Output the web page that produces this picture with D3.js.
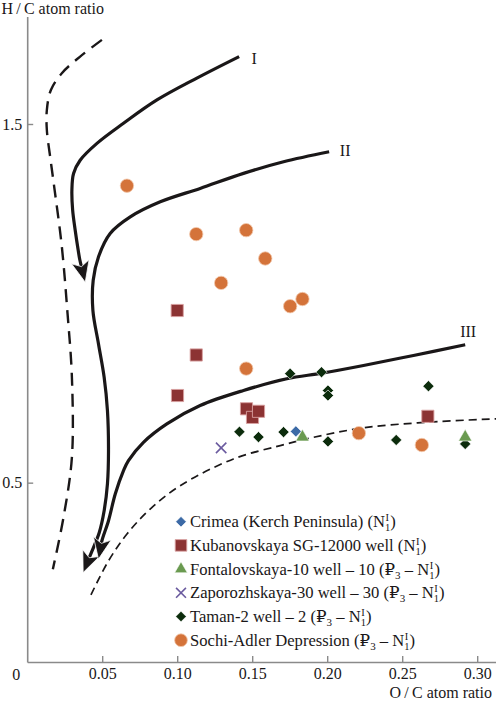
<!DOCTYPE html>
<html>
<head>
<meta charset="utf-8">
<script src="https://cdn.jsdelivr.net/npm/d3@7"></script>
<style>
  html, body { margin: 0; padding: 0; background: #fff; }
  svg { display: block; }
</style>
</head>
<body>
<svg id="chart" width="496" height="703"></svg>
<script>
// ---------------- data ----------------
const xTicks = [0.05, 0.10, 0.15, 0.20, 0.25, 0.30];
const xTickLabels = ["0.05", "0.10", "0.15", "0.20", "0.25", "0.30"];
const yTicks = [0.5, 1.5];
const yTickLabels = ["0.5", "1.5"];

// O/C , H/C
const crimea = [[0.1791, 0.643]];
const kubanovskaya = [
  [0.1000, 0.980], [0.1127, 0.856], [0.1002, 0.743], [0.1462, 0.706],
  [0.1502, 0.682], [0.1542, 0.699], [0.2671, 0.685]
];
const fontalovskaya = [[0.1835, 0.627], [0.2920, 0.627]];
const zaporozhskaya = [[0.1293, 0.597]];
const taman = [
  [0.1753, 0.804], [0.1962, 0.808], [0.2005, 0.757], [0.2005, 0.743],
  [0.2675, 0.769], [0.1415, 0.642], [0.1542, 0.627], [0.1709, 0.641],
  [0.2005, 0.615], [0.2460, 0.619], [0.2920, 0.608]
];
const sochiAdler = [
  [0.0665, 1.328], [0.1127, 1.193], [0.1460, 1.204], [0.1587, 1.125],
  [0.1293, 1.057], [0.1753, 0.992], [0.1835, 1.012], [0.1460, 0.818],
  [0.2211, 0.638], [0.2631, 0.605]
];

// evolution paths (solid, with arrow at end)
const curveI = [
  [0.1413, 1.688], [0.1131, 1.628], [0.0865, 1.567], [0.0642, 1.502],
  [0.0465, 1.446], [0.0353, 1.399], [0.0309, 1.362], [0.0298, 1.316],
  [0.0303, 1.260], [0.0320, 1.204], [0.0340, 1.148], [0.0350, 1.123],
  [0.0387, 1.059]
];
const curveII = [
  [0.2013, 1.4226], [0.1709, 1.3947], [0.1442, 1.3623], [0.1153, 1.3204],
  [0.0887, 1.2830], [0.0687, 1.2410], [0.0553, 1.1947], [0.0475, 1.1293],
  [0.0440, 1.0642], [0.0438, 0.9804], [0.0475, 0.8874], [0.0513, 0.7941],
  [0.0535, 0.7011], [0.0542, 0.5894], [0.0535, 0.4964], [0.0513, 0.4218],
  [0.0480, 0.3603], [0.0427, 0.3045], [0.0373, 0.2494]
];
const curveIII = [
  [0.2920, 0.8846], [0.2575, 0.8547], [0.2242, 0.8268], [0.1965, 0.8053],
  [0.1731, 0.7897], [0.1442, 0.7570], [0.1153, 0.7151], [0.0931, 0.6640],
  [0.0775, 0.6126], [0.0675, 0.5615], [0.0642, 0.5335], [0.0587, 0.4684],
  [0.0542, 0.3939], [0.0498, 0.3380], [0.0475, 0.2869]
];
const curveLabels = ["I", "II", "III"];

// boundary lines (dashed)
const boundLeft = [
  [0.0498, 1.7346], [0.0353, 1.688], [0.0231, 1.6416], [0.0158, 1.595],
  [0.0131, 1.539], [0.0131, 1.4832], [0.0153, 1.4087], [0.0180, 1.3249],
  [0.0231, 1.1573], [0.0269, 0.9712], [0.0298, 0.7941], [0.0298, 0.5707],
  [0.0242, 0.4031], [0.0171, 0.2589]
];
const boundLower = [
  [0.0425, 0.1872], [0.0542, 0.2821], [0.0665, 0.3567], [0.0820, 0.4265],
  [0.1020, 0.4916], [0.1375, 0.5662], [0.1687, 0.6034], [0.1909, 0.6265],
  [0.2242, 0.6528], [0.2665, 0.6684], [0.3127, 0.6780]
];

// legend (segments: [text, kind]) kind: "" normal, "sub", "NI1" stacked sup I / sub 1
const legendNames = [
  [["Crimea (Kerch Peninsula) (N", ""], ["I", "NI1"], [")", ""]],
  [["Kubanovskaya SG-12000 well (N", ""], ["I", "NI1"], [")", ""]],
  [["Fontalovskaya-10 well \u2013 10 (\u20BD", ""], ["3", "sub"], [" \u2013 N", ""], ["I", "NI1"], [")", ""]],
  [["Zaporozhskaya-30 well \u2013 30 (\u20BD", ""], ["3", "sub"], [" \u2013 N", ""], ["I", "NI1"], [")", ""]],
  [["Taman-2 well \u2013 2 (\u20BD", ""], ["3", "sub"], [" \u2013 N", ""], ["I", "NI1"], [")", ""]],
  [["Sochi-Adler Depression (\u20BD", ""], ["3", "sub"], [" \u2013 N", ""], ["I", "NI1"], [")", ""]]
];

// ---------------- drawing ----------------
const FONT = "'Liberation Serif', 'Times New Roman', Times, 'DejaVu Serif', serif";
const svg = d3.select("#chart").attr("font-family", FONT).style("font-family", FONT);
const x = d3.scaleLinear().domain([0, (496 - 27.2) / 1500]).range([27.2, 496]);
const y = d3.scaleLinear().domain([0, 1.8]).range([662, 662 - 1.8 * 358.67]);

const INK = "#1a1718";
const AXIS = "#8a8a8a";

function txt(sel, size) {
  const fs = size || 16;
  return sel.attr("font-family", FONT).style("font-family", FONT).attr("fill", INK)
    .attr("font-size", fs).style("font-size", fs + "px");
}

// axes
const gx = svg.append("g").attr("transform", `translate(0,${y(0)})`)
  .call(d3.axisBottom(x).tickValues(xTicks).tickFormat((d, i) => xTickLabels[i])
    .tickSize(-6).tickSizeOuter(0).tickPadding(6));
const gy = svg.append("g").attr("transform", `translate(${x(0)},0)`)
  .call(d3.axisLeft(y).tickValues(yTicks).tickFormat((d, i) => yTickLabels[i])
    .tickSize(-6).tickSizeOuter(0).tickPadding(5));
[gx, gy].forEach(g => {
  g.attr("font-family", FONT).attr("font-size", 16);
  g.select(".domain").attr("stroke", AXIS).attr("stroke-width", 1.6);
  g.selectAll(".tick line").attr("stroke", AXIS).attr("stroke-width", 1.4);
  txt(g.selectAll(".tick text"));
});

txt(svg.append("text")).attr("x", x(0) - 11).attr("y", y(0) + 17.5)
  .attr("text-anchor", "middle").text("0");

txt(svg.append("text")).attr("x", 1.5).attr("y", 13.5)
  .text("H\u2009/\u2009C atom ratio");
txt(svg.append("text")).attr("x", 492).attr("y", 698).attr("text-anchor", "end")
  .text("O\u2009/\u2009C atom ratio");

// curves
const line = d3.line().x(d => x(d[0])).y(d => y(d[1])).curve(d3.curveCatmullRom.alpha(0.5));

svg.append("path").datum(boundLeft).attr("d", line).attr("fill", "none")
  .attr("stroke", INK).attr("stroke-width", 2.4).attr("stroke-dasharray", "13,8");
svg.append("path").datum(boundLower).attr("d", line).attr("fill", "none")
  .attr("stroke", INK).attr("stroke-width", 1.7).attr("stroke-dasharray", "8,5");

function arrowHead(pts) {
  const n = pts.length;
  const tx = x(pts[n - 1][0]), ty = y(pts[n - 1][1]);
  const px = x(pts[n - 2][0]), py = y(pts[n - 2][1]);
  let dx = tx - px, dy = ty - py;
  const L = Math.hypot(dx, dy); dx /= L; dy /= L;
  const len = 21, hw = 9, notch = 5;
  const bx = tx - dx * len, by = ty - dy * len;
  const nx = -dy, ny = dx;
  const p = [
    [tx, ty],
    [bx + nx * hw, by + ny * hw],
    [tx - dx * (len - notch), ty - dy * (len - notch)],
    [bx - nx * hw, by - ny * hw]
  ];
  return "M" + p.map(q => q.join(",")).join("L") + "Z";
}

[curveI, curveII, curveIII].forEach((c) => {
  const n = c.length;
  const trimmed = c.slice(0, -1).concat([[
    c[n - 1][0] + (c[n - 2][0] - c[n - 1][0]) * 0.5,
    c[n - 1][1] + (c[n - 2][1] - c[n - 1][1]) * 0.5]]);
  svg.append("path").datum(trimmed)
    .attr("d", line).attr("fill", "none").attr("stroke", INK).attr("stroke-width", 3.2);
  svg.append("path").attr("d", arrowHead(c)).attr("fill", INK)
    .attr("stroke", "#fff").attr("stroke-width", 0.8);
});
const labelOffsets = [[15, 2], [16, -1], [3, -13]];
[curveI, curveII, curveIII].forEach((c, i) => {
  txt(svg.append("text")).attr("x", x(c[0][0]) + labelOffsets[i][0])
    .attr("y", y(c[0][1]) + labelOffsets[i][1] + 5)
    .attr("text-anchor", "middle").text(curveLabels[i]);
});

// markers
const COL = {
  crimea: "#3c6aa6", kuban: "#8c3333", font: "#6a9a50", zap: "#6b5b9f",
  taman: "#0c2c0c", sochi: "#d4733a"
};
function drawMarker(g, kind, cx, cy, scale) {
  const s = scale || 1;
  if (kind === "diamond" || kind === "diamondB") {
    const col = kind === "diamond" ? COL.taman : COL.crimea;
    g.append("path").attr("d", d3.symbol().type(d3.symbolSquare).size(62 * s * s)())
      .attr("transform", `translate(${cx},${cy}) rotate(45)`)
      .attr("fill", col).attr("stroke", "#fff").attr("stroke-width", 0.6);
  } else if (kind === "square") {
    g.append("path").attr("d", d3.symbol().type(d3.symbolSquare).size(148 * s * s)())
      .attr("transform", `translate(${cx},${cy})`)
      .attr("fill", COL.kuban).attr("stroke", "#d9a0a0").attr("stroke-width", 0.9);
  } else if (kind === "triangle") {
    g.append("path").attr("d", d3.symbol().type(d3.symbolTriangle).size(78 * s * s)())
      .attr("transform", `translate(${cx},${cy})`)
      .attr("fill", COL.font).attr("stroke", "#fff").attr("stroke-width", 0.6);
  } else if (kind === "cross") {
    const h = 5.2 * s;
    g.append("path").attr("d", `M${cx - h},${cy - h}L${cx + h},${cy + h}M${cx - h},${cy + h}L${cx + h},${cy - h}`)
      .attr("stroke", COL.zap).attr("stroke-width", 1.6).attr("fill", "none");
  } else if (kind === "circle") {
    g.append("circle").attr("cx", cx).attr("cy", cy).attr("r", 6.7 * s)
      .attr("fill", COL.sochi).attr("stroke", "#f2c9ad").attr("stroke-width", 0.8);
  }
}
const series = [
  { data: sochiAdler, kind: "circle" },
  { data: kubanovskaya, kind: "square" },
  { data: taman, kind: "diamond" },
  { data: crimea, kind: "diamondB" },
  { data: fontalovskaya, kind: "triangle" },
  { data: zaporozhskaya, kind: "cross" }
];
const gPts = svg.append("g");
series.forEach(s => s.data.forEach(d => drawMarker(gPts, s.kind, x(d[0]), y(d[1]))));

// legend
const legendKinds = ["diamondB", "square", "triangle", "cross", "diamond", "circle"];
const gL = svg.append("g");
legendNames.forEach((segs, i) => {
  const cy = 521.7 + i * 23.7;
  drawMarker(gL, legendKinds[i], 181, cy, 0.95);
  const t = txt(gL.append("text"), 16.6).attr("x", 190).attr("y", cy + 5.5);
  let pendingDy = 0;
  segs.forEach(([s, kind]) => {
    if (kind === "") {
      t.append("tspan").attr("dy", pendingDy).text(s);
      pendingDy = 0;
    } else if (kind === "sub") {
      t.append("tspan").attr("dy", 4 + pendingDy).style("font-size", "11px").text(s);
      pendingDy = -4;
    } else if (kind === "NI1") {
      t.append("tspan").attr("dy", -6 + pendingDy).attr("dx", 0.5).style("font-size", "10.5px").text(s);
      t.append("tspan").attr("dy", 10).attr("dx", -3.9).style("font-size", "10.5px").text("1");
      pendingDy = -4;
    }
  });
});
</script>
</body>
</html>
